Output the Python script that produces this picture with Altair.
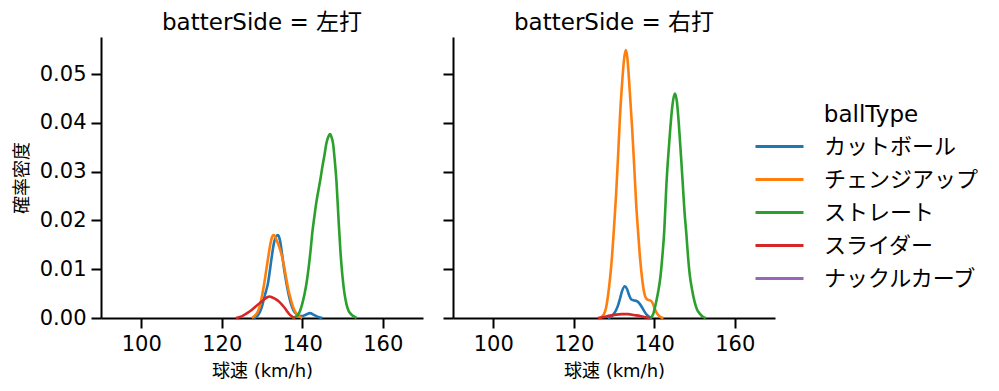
import altair as alt
import pandas as pd

# ---------------- data ----------------
sides = ["左打", "右打"]
ball_types = ["カットボール", "チェンジアップ", "ストレート", "スライダー", "ナックルカーブ"]
colors = ["#1f77b4", "#ff7f0e", "#2ca02c", "#d62728", "#9467bd"]
x_ticks = [100, 120, 140, 160]
y_ticks = [0.0, 0.01, 0.02, 0.03, 0.04, 0.05]

# 左打
L_cut_x = [128.0, 128.6, 129.0, 129.5, 130.0, 130.5, 131.0, 131.5, 132.0, 132.5, 133.0, 133.5,
           134.0, 134.5, 135.0, 135.5, 136.0, 136.5, 137.0, 137.5, 138.0, 139.0, 140.0, 141.0,
           141.9, 143.0, 144.0, 145.0]
L_cut_y = [0.0, 0.0003, 0.0006, 0.0013, 0.0024, 0.0040, 0.0055, 0.0072, 0.0100, 0.0130, 0.0155, 0.0167,
           0.0170, 0.0158, 0.0130, 0.0100, 0.0075, 0.0053, 0.0035, 0.0022, 0.0013, 0.0006, 0.0004, 0.0007,
           0.0010, 0.0006, 0.0002, 0.0]

L_chg_x = [127.5, 128.0, 128.6, 129.0, 129.5, 130.0, 130.5, 131.0, 131.5, 132.0, 132.5, 132.8,
           133.2, 133.6, 134.0, 134.5, 135.0, 135.5, 136.0, 136.5, 137.0, 137.5, 138.0, 138.6,
           139.5, 140.0]
L_chg_y = [0.0, 0.0003, 0.0008, 0.0014, 0.0026, 0.0045, 0.0068, 0.0095, 0.0122, 0.0148, 0.0166, 0.0170,
           0.0168, 0.0160, 0.0152, 0.0140, 0.0125, 0.0105, 0.0082, 0.0060, 0.0043, 0.0028, 0.0017, 0.0009,
           0.0002, 0.0]

L_str_x = [137.5, 138.0, 139.0, 140.0, 141.0, 142.0, 142.5, 143.0, 143.5, 144.0, 144.5, 145.0,
           145.5, 146.0, 146.5, 146.9, 147.3, 147.7, 148.0, 148.5, 149.0, 149.5, 150.0, 150.5,
           151.0, 151.5, 152.0, 152.7, 153.5]
L_str_y = [0.0, 0.0001, 0.0007, 0.0029, 0.0068, 0.0133, 0.0175, 0.0207, 0.0237, 0.0261, 0.0284, 0.0310,
           0.0333, 0.0358, 0.0372, 0.0377, 0.0370, 0.0355, 0.0330, 0.0280, 0.0205, 0.0135, 0.0085, 0.0050,
           0.0028, 0.0015, 0.0009, 0.0004, 0.0]

L_sld_x = [123.5, 124.5, 125.5, 126.5, 127.5, 128.5, 129.5, 130.5, 131.2, 131.9, 132.6, 133.5,
           134.3, 135.0, 135.7, 136.4, 137.0, 137.7, 138.3]
L_sld_y = [0.0, 0.0002, 0.0006, 0.0011, 0.0017, 0.0024, 0.0031, 0.0038, 0.0042, 0.0044, 0.0042, 0.0038,
           0.0033, 0.0027, 0.0020, 0.0012, 0.0006, 0.0002, 0.0]

# 右打
R_cut_x = [128.5, 129.5, 130.0, 130.5, 131.0, 131.5, 132.0, 132.7, 133.2, 133.7, 134.3, 135.0,
           135.6, 136.2, 136.8, 137.5, 138.1, 139.0, 139.5]
R_cut_y = [0.0, 0.0004, 0.0009, 0.0016, 0.0026, 0.0040, 0.0055, 0.0065, 0.0060, 0.0048, 0.0038, 0.0036,
           0.0035, 0.0031, 0.0024, 0.0014, 0.0007, 0.0001, 0.0]

R_chg_x = [126.5, 127.5, 128.0, 128.5, 129.0, 129.5, 130.0, 130.5, 131.0, 131.5, 132.0, 132.5,
           132.9, 133.3, 133.9, 134.5, 135.0, 135.5, 136.0, 136.5, 137.0, 137.5, 138.0, 138.5,
           139.0, 139.5, 140.0, 140.5, 141.0, 141.8, 142.3]
R_chg_y = [0.0, 0.0008, 0.0020, 0.0045, 0.0080, 0.0125, 0.0185, 0.0250, 0.0330, 0.0415, 0.0480, 0.0530,
           0.0549, 0.0535, 0.0467, 0.0390, 0.0315, 0.0235, 0.0175, 0.0120, 0.0080, 0.0052, 0.0040, 0.0037,
           0.0036, 0.0032, 0.0022, 0.0012, 0.0006, 0.0001, 0.0]

R_str_x = [139.0, 139.7, 140.5, 141.0, 141.5, 142.0, 142.5, 143.0, 143.5, 144.0, 144.5, 145.1,
           145.6, 146.3, 146.7, 147.1, 147.5, 148.0, 148.4, 148.8, 149.4, 150.0, 150.6, 151.3,
           152.0, 152.8]
R_str_y = [0.0, 0.0007, 0.0034, 0.0055, 0.0082, 0.0125, 0.0180, 0.0270, 0.0335, 0.0390, 0.0435, 0.0460,
           0.0445, 0.0375, 0.0325, 0.0273, 0.0220, 0.0170, 0.0125, 0.0090, 0.0058, 0.0034, 0.0018, 0.0009,
           0.0003, 0.0]

R_sld_x = [126.0, 127.5, 129.0, 130.5, 132.0, 133.5, 135.0, 136.5, 137.5, 139.0]
R_sld_y = [0.0, 0.0002, 0.0005, 0.0007, 0.0008, 0.0008, 0.0006, 0.0004, 0.0002, 0.0]

series = [
    ("左打", "カットボール", L_cut_x, L_cut_y),
    ("左打", "チェンジアップ", L_chg_x, L_chg_y),
    ("左打", "ストレート", L_str_x, L_str_y),
    ("左打", "スライダー", L_sld_x, L_sld_y),
    ("右打", "カットボール", R_cut_x, R_cut_y),
    ("右打", "チェンジアップ", R_chg_x, R_chg_y),
    ("右打", "ストレート", R_str_x, R_str_y),
    ("右打", "スライダー", R_sld_x, R_sld_y),
]

rows = []
for side, bt, xs, ys in series:
    for xv, yv in zip(xs, ys):
        rows.append({"batterSide": side, "ballType": bt, "speed": xv, "density": yv})
df = pd.DataFrame(rows)

FONT = "DejaVu Sans, Noto Sans CJK JP, sans-serif"

color_enc = alt.Color(
    "ballType:N",
    scale=alt.Scale(domain=ball_types, range=colors),
    legend=alt.Legend(
        title="ballType",
        orient="none",
        legendX=662,
        legendY=67,
        symbolType="M-1.6,0L1.6,0",
        symbolSize=900,
        symbolStrokeWidth=3,
        labelOffset=28,
        rowPadding=5,
        titleAnchor="middle",
        titleFontSize=23,
        titleFontWeight="normal",
        labelFontSize=22,
        titlePadding=3,
    ),
)


def panel(side, first):
    yaxis = alt.Axis(
        values=y_ticks,
        format=".2f",
        title="確率密度" if first else None,
        labels=first,
    )
    return (
        alt.Chart(df[df["batterSide"] == side])
        .mark_line(strokeWidth=2.6, interpolate="monotone")
        .encode(
            x=alt.X(
                "speed:Q",
                scale=alt.Scale(domain=[90, 170], nice=False, zero=False),
                axis=alt.Axis(values=x_ticks, format="d", title="球速 (km/h)"),
            ),
            y=alt.Y(
                "density:Q",
                scale=alt.Scale(domain=[0, 0.0576], nice=False),
                axis=yaxis,
            ),
            color=color_enc,
        )
        .properties(width=322, height=281, title="batterSide = " + side)
    )


chart = (
    alt.hconcat(panel("左打", True), panel("右打", False), spacing=19)
    .properties(padding={"left": 5, "top": 4, "right": 0, "bottom": 0})
    .configure(font=FONT)
    .configure_view(stroke=None)
    .configure_axis(
        grid=False,
        domainColor="black",
        domainWidth=2,
        tickColor="black",
        tickWidth=2,
        tickSize=10,
        labelColor="black",
        labelFontSize=21,
        labelPadding=5,
        titleColor="black",
        titleFontSize=18,
        titleFontWeight="normal",
    )
    .configure_axisX(titlePadding=8)
    .configure_axisY(titlePadding=8)
    .configure_title(fontSize=23, fontWeight="normal", color="black", offset=2, anchor="middle")
    .configure_legend(labelColor="black", titleColor="black")
)

chart.save("out.html", embed_options={"renderer": "svg", "actions": False})
